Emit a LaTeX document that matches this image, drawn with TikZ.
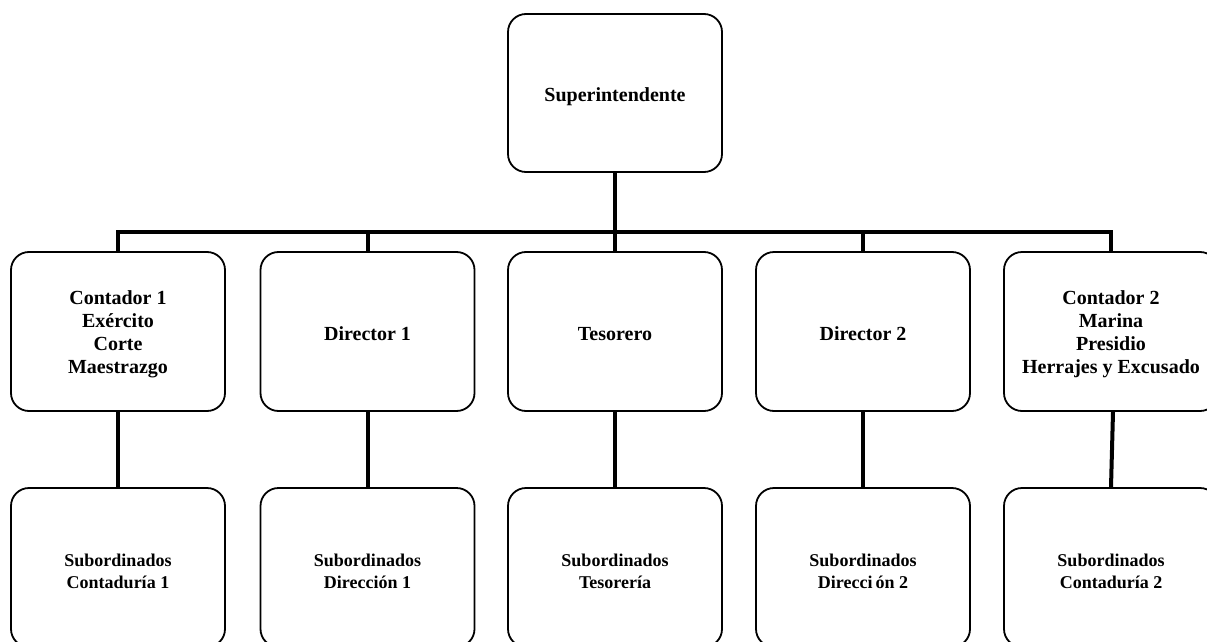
\documentclass[tikz,border=0pt]{standalone}
\usepackage{fontspec}
\setmainfont{Liberation Serif}
\newcommand{\celltxt}[2]{\raisebox{-#1}[\height][\depth]{\begin{tabular}{@{}c@{}}#2\end{tabular}}}
\begin{document}
\begin{tikzpicture}[x=1pt,y=-1pt,
  box/.style={draw, rectangle, rounded corners=18pt, line width=1.8pt,
    minimum width=214pt, minimum height=159pt, inner sep=0pt, align=center,
    font=\fontsize{20}{23}\selectfont\bfseries},
  subbox/.style={box, font=\fontsize{18}{21.7}\selectfont\bfseries},
  conn/.style={line width=4pt}]
\useasboundingbox (0,0) rectangle (1207,642);
\clip (0,0) rectangle (1207,642);
\node[box, minimum height=158pt] (sup) at (615,93) {\celltxt{4pt}{Superintendente}};
\node[box] (t1) at (118,331.5) {\celltxt{2.5pt}{Contador 1\\Exército\\Corte\\Maestrazgo}};
\node[box] (t2) at (367.5,331.5) {\celltxt{4pt}{Director 1}};
\node[box] (t3) at (615,331.5) {\celltxt{4pt}{Tesorero}};
\node[box] (t4) at (863,331.5) {\celltxt{4pt}{Director 2}};
\node[box] (t5) at (1111,331.5) {\celltxt{2.5pt}{Contador 2\\Marina\\Presidio\\Herrajes y Excusado}};
\node[subbox] (b1) at (118,567.5) {\celltxt{6pt}{Subordinados\\Contaduría 1}};
\node[subbox] (b2) at (367.5,567.5) {\celltxt{6pt}{Subordinados\\Dirección 1}};
\node[subbox] (b3) at (615,567.5) {\celltxt{6pt}{Subordinados\\Tesorería}};
\node[subbox] (b4) at (863,567.5) {\celltxt{6pt}{Subordinados\\Direcci\kern3pt ón 2}};
\node[subbox] (b5) at (1111,567.5) {\celltxt{6pt}{Subordinados\\Contaduría 2}};
\coordinate (bus) at (615,232);
\draw[conn] (sup.south) -- (t3.north);
\foreach \i in {1,2,4,5} {\draw[conn] (t\i.north) |- (bus);}
\foreach \i in {1,2,3,4} {\draw[conn] (t\i.south) -- (b\i.north);}
\draw[conn] ([xshift=2pt]t5.south) -- (b5.north);
\end{tikzpicture}
\end{document}
